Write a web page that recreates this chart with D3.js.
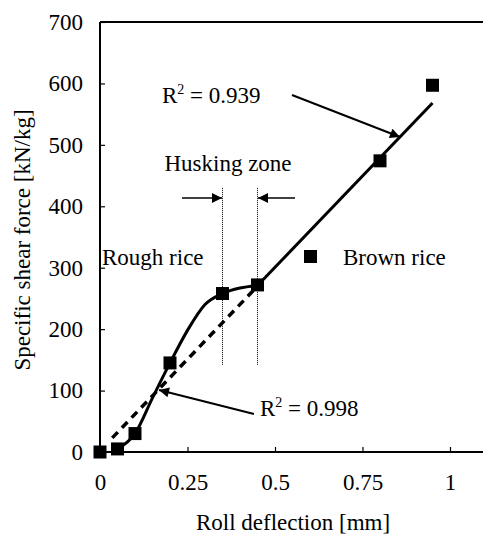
<!DOCTYPE html>
<html><head><meta charset="utf-8">
<script src="https://cdn.jsdelivr.net/npm/d3@7"></script>
<style>
html,body{margin:0;padding:0;background:#fff;}
svg{display:block;}
svg text{font-family:"Liberation Serif","Times New Roman",serif !important;fill:#000;}
</style></head>
<body>
<svg id="c" width="483" height="537"></svg>
<script>
// Measured points (roll deflection mm, specific shear force kN/kg)
const deflection = [0, 0.05, 0.1, 0.2, 0.35, 0.45, 0.8, 0.95];
const shearForce = [0, 5, 30, 145, 258, 272, 474, 597];
// Rough rice fit (solid curve) nodes
const roughFitX = [0.05, 0.1, 0.15, 0.2, 0.25, 0.3, 0.35, 0.4, 0.45];
const roughFitY = [5, 30, 88, 145, 198, 240, 258, 267, 271];
// Brown rice linear fit (solid straight)
const brownFitX = [0.45, 0.95];
const brownFitY = [271, 568];
// Overall linear fit (dashed)
const dashFitX = [0.035, 0.45];
const dashFitY = [23, 270];
// Ticks
const xTicks = [0, 0.25, 0.5, 0.75, 1];
const xTickLabels = ["0", "0.25", "0.5", "0.75", "1"];
const yTicks = [0, 100, 200, 300, 400, 500, 600, 700];
// Husking zone bounds
const huskX = [0.35, 0.45];
const huskY = [142, 430];

const svg = d3.select("#c");
const x = d3.scaleLinear().domain([0, 1.1]).range([100, 485]);
const y = d3.scaleLinear().domain([0, 700]).range([452, 22]);
const serif = "'Liberation Serif','Times New Roman',serif";

const defs = svg.append("defs");
defs.append("marker").attr("id","ah").attr("viewBox","0 0 10 10")
  .attr("refX",10).attr("refY",5).attr("markerWidth",14).attr("markerHeight",10)
  .attr("markerUnits","userSpaceOnUse").attr("orient","auto")
  .append("path").attr("d","M0,0L10,5L0,10Z").attr("fill","#000");

// axes
const fs = 23;
const yAxis = d3.axisLeft(y).tickValues(yTicks).tickSize(-5).tickPadding(17).tickFormat(d3.format("d"));
const gy = svg.append("g").attr("transform","translate(100,0)").call(yAxis);
const xAxis = d3.axisBottom(x).tickValues(xTicks).tickSize(-5).tickPadding(30).tickFormat((d,i)=>xTickLabels[i]);
const gx = svg.append("g").attr("transform","translate(0,452)").call(xAxis);
[gx,gy].forEach(g=>{
  g.attr("font-family", serif).attr("font-size", fs);
  g.select(".domain").remove();
  g.selectAll(".tick line").attr("stroke","#000").attr("stroke-width",1.2);
  g.selectAll(".tick text").attr("font-size",fs).attr("fill","#000").attr("font-family",serif);
});
gx.selectAll(".tick text").attr("dy","0.35em");

// frame lines
svg.append("line").attr("x1",x(0)).attr("x2",x(0)).attr("y1",y(700)).attr("y2",y(0)).attr("stroke","#000").attr("stroke-width",2);
svg.append("line").attr("x1",x(0)).attr("x2",x(1.1)).attr("y1",y(700)).attr("y2",y(700)).attr("stroke","#000").attr("stroke-width",2);
svg.append("line").attr("x1",x(0)).attr("x2",x(1.1)).attr("y1",y(0)).attr("y2",y(0)).attr("stroke","#000").attr("stroke-width",2);

// husking zone dotted lines
huskX.forEach(v=>{
  svg.append("line").attr("x1",x(v)).attr("x2",x(v)).attr("y1",y(huskY[1])).attr("y2",y(huskY[0]))
    .attr("stroke","#000").attr("stroke-width",1).attr("stroke-dasharray","1,1");
});

// dashed fit
svg.append("path").datum(dashFitX.map((v,i)=>[v,dashFitY[i]]))
  .attr("d", d3.line().x(d=>x(d[0])).y(d=>y(d[1])))
  .attr("fill","none").attr("stroke","#000").attr("stroke-width",3.5).attr("stroke-dasharray","8,6");

// solid curve
svg.append("path").datum(roughFitX.map((v,i)=>[v,roughFitY[i]]))
  .attr("d", d3.line().x(d=>x(d[0])).y(d=>y(d[1])).curve(d3.curveMonotoneX))
  .attr("fill","none").attr("stroke","#000").attr("stroke-width",3);
svg.append("path").datum(brownFitX.map((v,i)=>[v,brownFitY[i]]))
  .attr("d", d3.line().x(d=>x(d[0])).y(d=>y(d[1])))
  .attr("fill","none").attr("stroke","#000").attr("stroke-width",3);

// squares
const s = 13;
svg.append("g").selectAll("rect").data(deflection.map((v,i)=>[v,shearForce[i]])).join("rect")
  .attr("x",d=>x(d[0])-s/2).attr("y",d=>y(d[1])-s/2).attr("width",s).attr("height",s).attr("fill","#000");

// legend
svg.append("rect").attr("x",304).attr("y",250).attr("width",s).attr("height",s).attr("fill","#000");
svg.append("text").attr("x",343).attr("y",265).attr("font-size",fs).text("Brown rice");
svg.append("text").attr("x",102).attr("y",265).attr("font-size",fs).text("Rough rice");

// Husking zone
svg.append("text").attr("x",228).attr("y",171).attr("font-size",fs).attr("text-anchor","middle").text("Husking zone");
function arrow(x1,y1,x2,y2,w){
  svg.append("line").attr("x1",x1).attr("y1",y1).attr("x2",x2).attr("y2",y2)
    .attr("stroke","#000").attr("stroke-width",w||1.5).attr("marker-end","url(#ah)");
}
arrow(182,198,x(huskX[0])-0.5,198);
arrow(295,198,x(huskX[1])+0.5,198);

// R² labels
function r2(xp,yp,val){
  const t = svg.append("text").attr("x",xp).attr("y",yp).attr("font-size",fs);
  t.append("tspan").text("R");
  t.append("tspan").attr("font-size",14).attr("dy",-9).text("2");
  t.append("tspan").attr("dy",9).text(" = " + val);
}
r2(162,103,"0.939");
arrow(292,95,400,137,2);
r2(260,416,"0.998");
arrow(254,414,159,390,2);

// axis titles
svg.append("text").attr("x",293).attr("y",530).attr("font-size",fs).attr("text-anchor","middle").text("Roll deflection [mm]");
svg.append("text").attr("transform","translate(30,240) rotate(-90)").attr("font-size",fs).attr("text-anchor","middle").text("Specific shear force [kN/kg]");
</script>
</body></html>
